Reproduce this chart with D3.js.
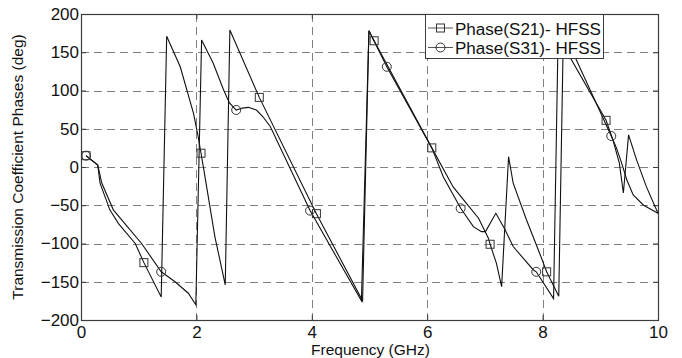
<!DOCTYPE html>
<html>
<head>
<meta charset="utf-8">
<script src="https://cdn.jsdelivr.net/npm/d3@7"></script>
<style>
  html, body { margin: 0; padding: 0; background: #fff; }
  svg { display: block; font-family: "Liberation Sans", Arial, sans-serif; }
</style>
</head>
<body>
<svg id="chart" width="682" height="358"></svg>
<script>
// ---- Data ----
const s21Freq  = [0.087, 0.29, 0.33, 0.50, 0.65, 0.94, 1.09, 1.39, 1.485, 1.72, 1.95, 2.03, 2.08, 2.13, 2.32, 2.50, 2.58, 3.09, 4.08, 4.88, 4.99, 5.08, 6.08, 6.45, 6.68, 6.89, 7.06, 7.09, 7.20, 7.29, 7.41, 7.49, 7.72, 7.95, 8.07, 8.28, 8.36, 8.47, 9.10, 9.22, 9.33, 9.40, 9.49, 9.63, 9.80, 10.0];
const s21Phase = [14.8, 2.6, -21, -56, -74, -100, -125, -170, 171, 131, 70, 40, 18, -4, -91, -154, 179, 91, -61, -175, 178, 165, 25, -26, -47.5, -67, -93, -101, -126, -156.5, 13.5, -21, -69, -113, -137, -169, 176, 144, 61, 35, 5, -34, 42, 9, -26, -60.5];

const s31Freq  = [0.087, 0.29, 0.36, 0.56, 0.76, 1.05, 1.39, 1.63, 1.86, 1.99, 2.09, 2.29, 2.47, 2.57, 2.69, 2.80, 2.90, 3.04, 3.15, 3.28, 3.97, 4.86, 4.99, 5.30, 6.08, 6.28, 6.58, 6.80, 6.94, 7.01, 7.19, 7.35, 7.49, 7.84, 7.89, 8.19, 8.27, 8.56, 9.19, 9.28, 9.37, 9.46, 9.57, 9.75, 10.0];
const s31Phase = [14.8, 2.6, -21, -56, -74, -100, -137, -150, -165, -180, 166, 136, 101, 84, 74.5, 77, 78, 74.5, 66, 53, -57, -175, 178, 131, 25, -13, -54, -78, -84.5, -84.5, -60.5, -82, -104, -134.6, -137, -172, 176, 144, 40.5, 25, 5, -17, -36.6, -50, -60.5];

const s21MarkerFreq  = [0.087, 1.09, 2.08, 3.09, 4.08, 5.08, 6.08, 7.09, 8.07, 9.10];
const s21MarkerPhase = [14.8, -125, 18, 91, -61, 165, 25, -101, -137, 61];
const s31MarkerFreq  = [0.087, 1.39, 2.69, 3.97, 5.30, 6.58, 7.89, 9.19];
const s31MarkerPhase = [14.8, -137, 74.5, -57, 131, -54, -137, 40.5];

const xTicks = [0, 2, 4, 6, 8, 10];
const yTicks = [-200, -150, -100, -50, 0, 50, 100, 150, 200];
const seriesNames = ["Phase(S21)- HFSS", "Phase(S31)- HFSS"];
const xLabel = "Frequency (GHz)";
const yLabel = "Transmission Coefficient Phases (deg)";

// ---- Layout ----
const L = 81, R = 658, T = 14, B = 320;
const svg = d3.select("#chart");
const x = d3.scaleLinear().domain([0, 10]).range([L, R]);
const y = d3.scaleLinear().domain([-200, 200]).range([B, T]);

const axisColor = "#3c3c3c";
const gridColor = "#808080";
const lineColor = "#111";
const markColor = "#333";

// grid
const g = svg.append("g");
g.selectAll(".vg").data(xTicks.filter(d => d > 0 && d < 10)).enter().append("line")
  .attr("x1", d => Math.round(x(d)) + 0.5).attr("x2", d => Math.round(x(d)) + 0.5)
  .attr("y1", T).attr("y2", B)
  .attr("stroke", gridColor).attr("stroke-width", 1).attr("stroke-dasharray", "8,5");
g.selectAll(".hg").data(yTicks.filter(d => d > -200 && d < 200)).enter().append("line")
  .attr("y1", d => Math.round(y(d)) + 0.5).attr("y2", d => Math.round(y(d)) + 0.5)
  .attr("x1", L).attr("x2", R)
  .attr("stroke", gridColor).attr("stroke-width", 1).attr("stroke-dasharray", "8,5");

// axes
const fontSize = 17;
const xAxis = svg.append("g").attr("transform", `translate(0,${B})`)
  .call(d3.axisBottom(x).tickValues(xTicks).tickFormat(d3.format("d")).tickSize(-5).tickSizeOuter(0).tickPadding(6));
const xAxisTop = svg.append("g").attr("transform", `translate(0,${T})`)
  .call(d3.axisTop(x).tickValues(xTicks).tickFormat("").tickSize(-5).tickSizeOuter(0));
const yAxis = svg.append("g").attr("transform", `translate(${L},0)`)
  .call(d3.axisLeft(y).tickValues(yTicks).tickFormat(d3.format("d")).tickSize(-5).tickSizeOuter(0).tickPadding(2));
const yAxisRight = svg.append("g").attr("transform", `translate(${R},0)`)
  .call(d3.axisRight(y).tickValues(yTicks).tickFormat("").tickSize(-5).tickSizeOuter(0));
[xAxis, xAxisTop, yAxis, yAxisRight].forEach(a => {
  a.select(".domain").remove();
  a.selectAll(".tick line").attr("stroke", axisColor);
  a.selectAll(".tick text").attr("fill", "#111").style("font-size", fontSize + "px")
    .style("font-family", "'Liberation Sans', Arial, sans-serif");
});

// box
svg.append("rect").attr("x", L + 0.5).attr("y", T + 0.5)
  .attr("width", R - L).attr("height", B - T)
  .attr("fill", "none").attr("stroke", axisColor).attr("stroke-width", 1.2);

// series lines
const line = d3.line().x(d => x(d[0])).y(d => y(d[1]));
const s21 = s21Freq.map((f, i) => [f, s21Phase[i]]);
const s31 = s31Freq.map((f, i) => [f, s31Phase[i]]);
svg.append("clipPath").attr("id", "clip").append("rect")
  .attr("x", L).attr("y", T).attr("width", R - L + 1).attr("height", B - T + 1);
const plot = svg.append("g").attr("clip-path", "url(#clip)");
[s21, s31].forEach(s => {
  plot.append("path").datum(s).attr("d", line)
    .attr("fill", "none").attr("stroke", lineColor).attr("stroke-width", 1.1)
    .attr("stroke-linejoin", "miter");
});

// markers
const sq = 8;
plot.selectAll(".m21").data(s21MarkerFreq.map((f, i) => [f, s21MarkerPhase[i]])).enter()
  .append("rect")
  .attr("x", d => x(d[0]) - sq / 2).attr("y", d => y(d[1]) - sq / 2)
  .attr("width", sq).attr("height", sq)
  .attr("fill", "none").attr("stroke", markColor).attr("stroke-width", 1);
plot.selectAll(".m31").data(s31MarkerFreq.map((f, i) => [f, s31MarkerPhase[i]])).enter()
  .append("circle")
  .attr("cx", d => x(d[0])).attr("cy", d => y(d[1])).attr("r", 4.5)
  .attr("fill", "none").attr("stroke", markColor).attr("stroke-width", 1);

// legend
const lg = svg.append("g");
lg.append("rect").attr("x", 425.5).attr("y", 14.5).attr("width", 178).attr("height", 44)
  .attr("fill", "#fff").attr("stroke", axisColor).attr("stroke-width", 1);
seriesNames.forEach((name, i) => {
  const cy = 28 + i * 19.5;
  lg.append("line").attr("x1", 428).attr("x2", 453).attr("y1", cy).attr("y2", cy)
    .attr("stroke", "#555").attr("stroke-width", 1);
  if (i === 0) {
    lg.append("rect").attr("x", 440.5 - sq / 2).attr("y", cy - sq / 2).attr("width", sq).attr("height", sq)
      .attr("fill", "none").attr("stroke", markColor);
  } else {
    lg.append("circle").attr("cx", 440.5).attr("cy", cy).attr("r", 4.5)
      .attr("fill", "none").attr("stroke", markColor);
  }
  const t = lg.append("text").attr("x", 455).attr("y", cy + 6.5)
    .attr("fill", "#111").style("font-size", "16px").text(name);
  // fit the legend text to the width it has in the reference (~146px)
  const w = t.node().getComputedTextLength();
  if (w > 0) t.style("font-size", Math.min(18, 16 * 146 / w).toFixed(2) + "px");
});

// axis labels
svg.append("text").attr("x", (L + R) / 2 + 1).attr("y", 354.5)
  .attr("text-anchor", "middle").attr("fill", "#111").style("font-size", "15.5px").text(xLabel);
svg.append("text").attr("transform", `translate(23,${(T + B) / 2}) rotate(-90)`)
  .attr("text-anchor", "middle").attr("fill", "#111").style("font-size", "15.5px").text(yLabel);
</script>
</body>
</html>
